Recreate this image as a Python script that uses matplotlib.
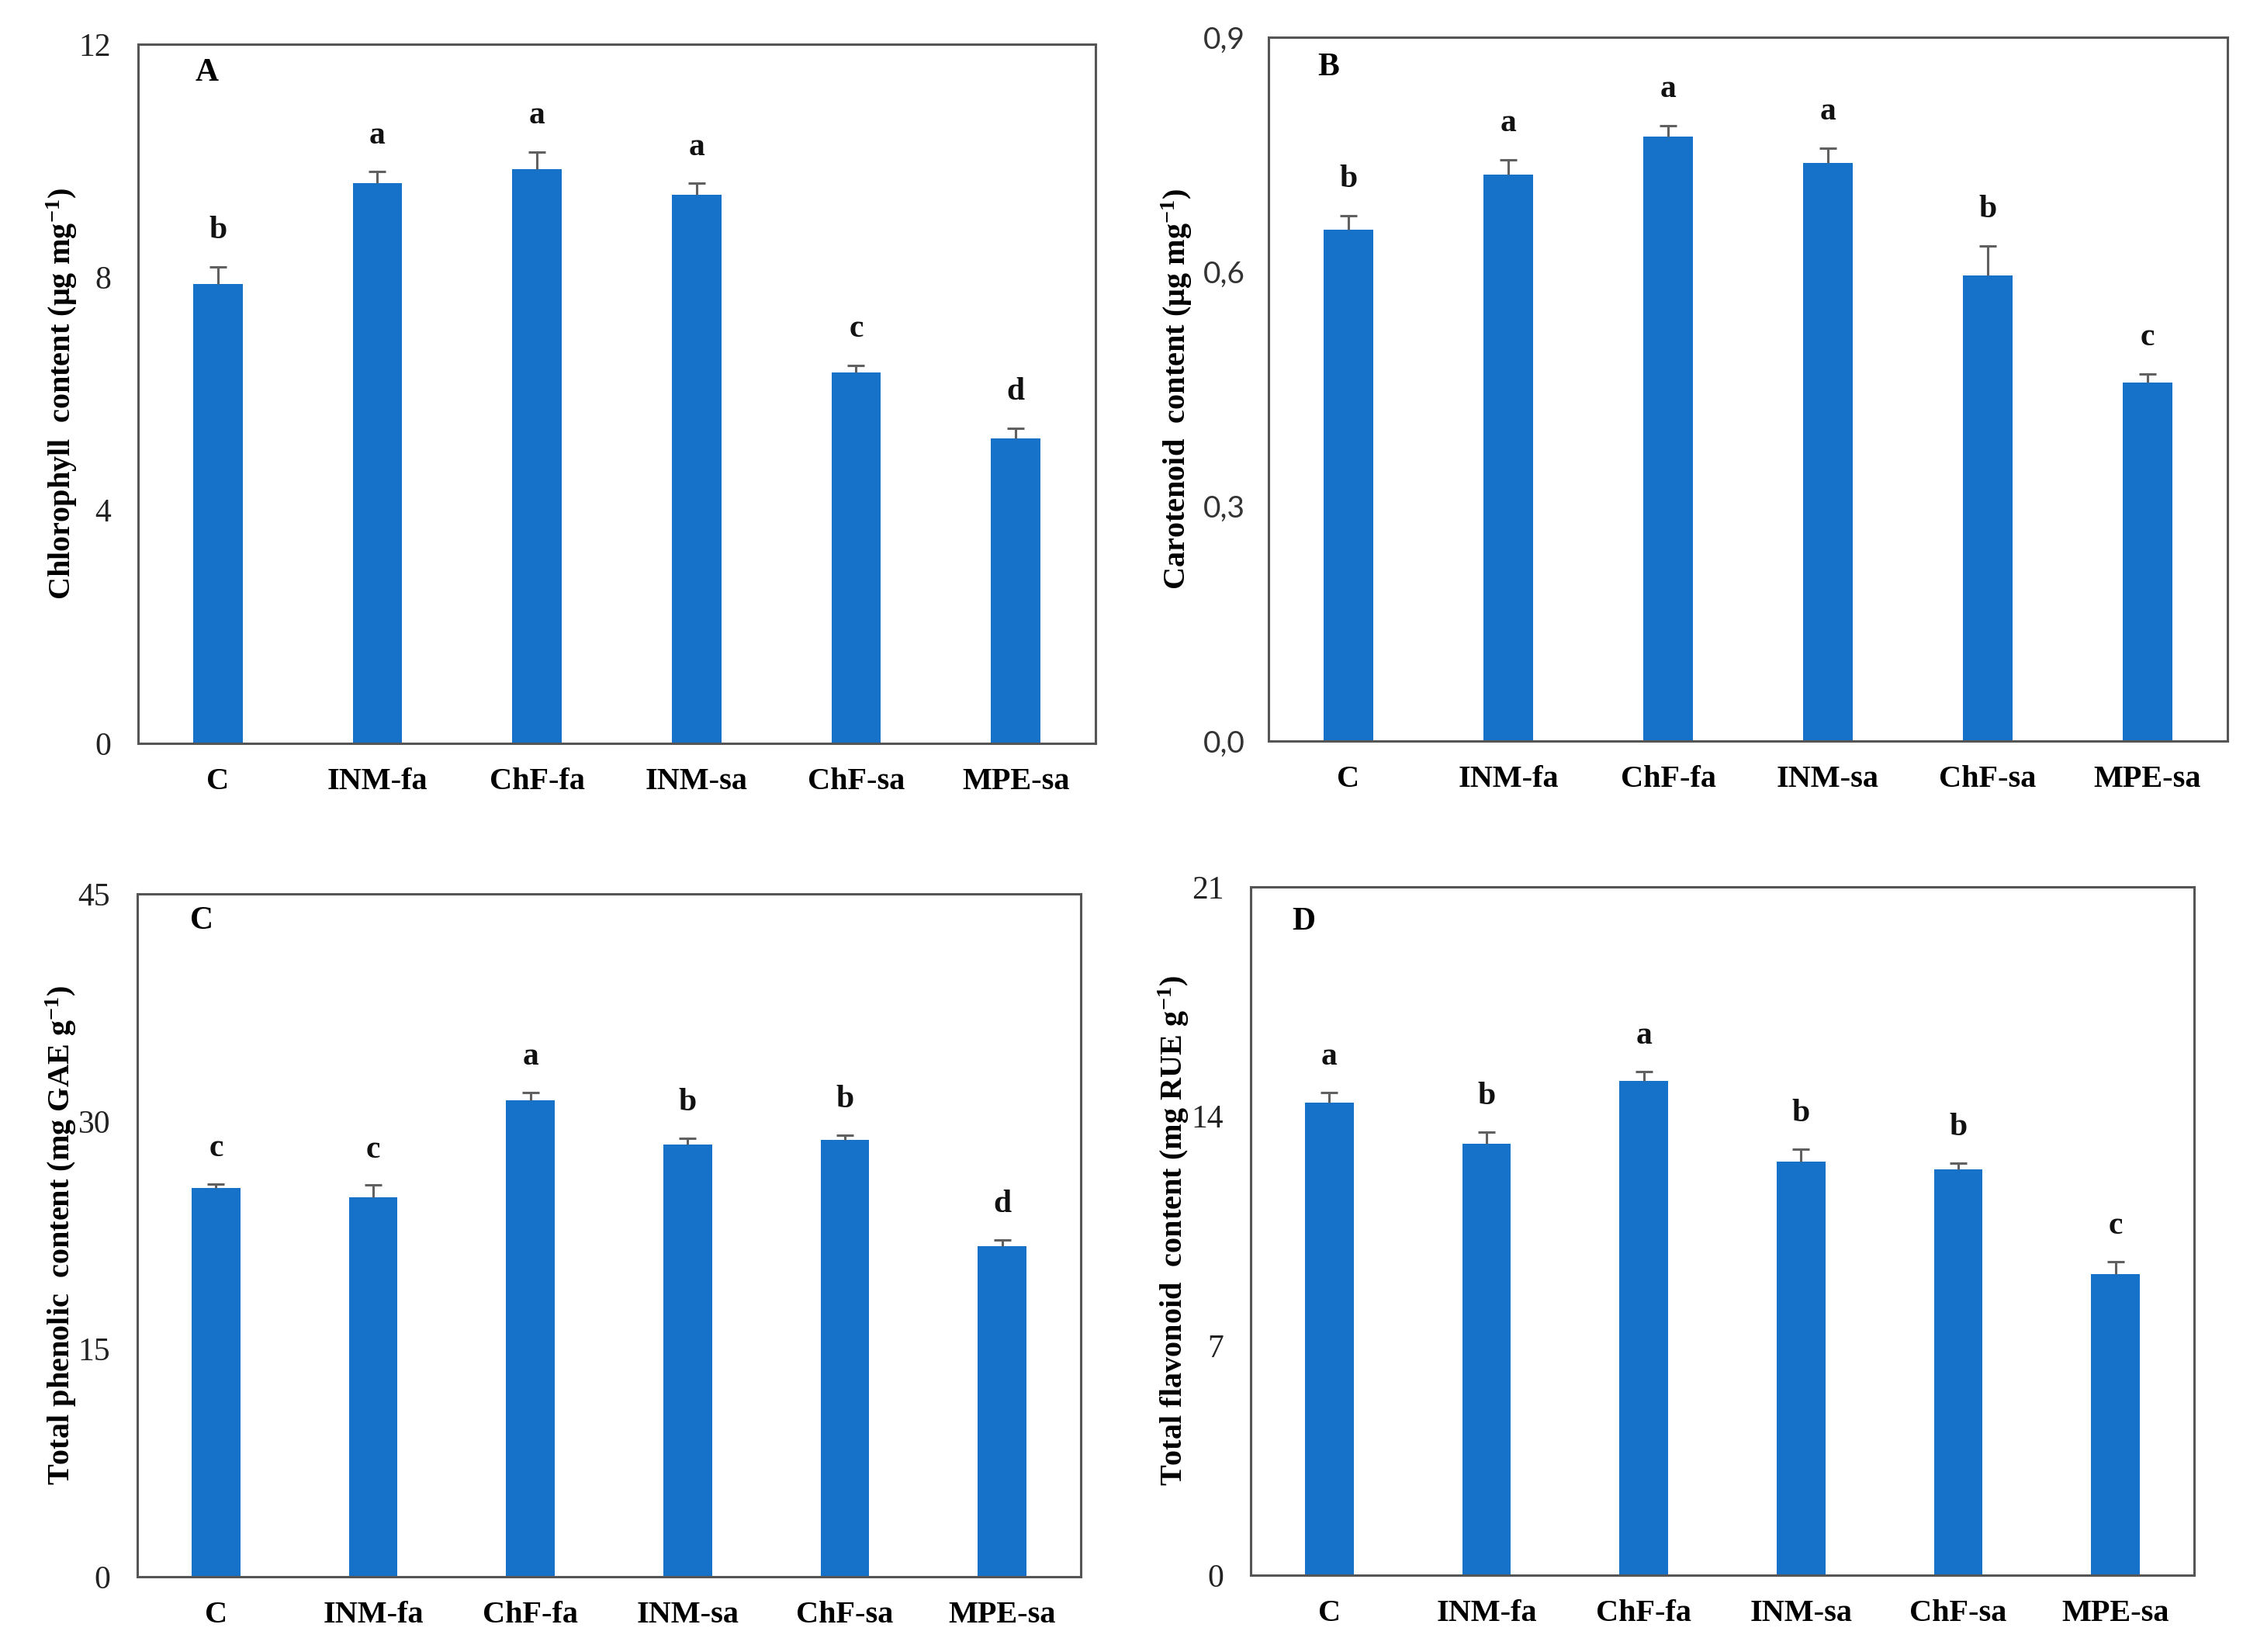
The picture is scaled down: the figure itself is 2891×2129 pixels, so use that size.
import numpy as np
import matplotlib
matplotlib.use("Agg")
import matplotlib.pyplot as plt

plt.rcParams['font.family'] = ['Liberation Serif', 'DejaVu Serif']
plt.rcParams['mathtext.fontset'] = 'custom'
plt.rcParams['mathtext.rm'] = 'Liberation Serif'
plt.rcParams['mathtext.bf'] = 'Liberation Serif:bold'
plt.rcParams['mathtext.it'] = 'Liberation Serif:italic'

categories = ['C', 'INM-fa', 'ChF-fa', 'INM-sa', 'ChF-sa', 'MPE-sa']

chl_vals = [7.89, 9.61, 9.86, 9.41, 6.36, 5.24]
chl_err = [0.29, 0.20, 0.29, 0.20, 0.13, 0.17]
chl_sig = ['b', 'a', 'a', 'a', 'c', 'd']

car_vals = [0.654, 0.7245, 0.773, 0.739, 0.595, 0.458]
car_err = [0.018, 0.0185, 0.014, 0.019, 0.038, 0.011]
car_sig = ['b', 'a', 'a', 'a', 'b', 'c']

phe_vals = [25.6, 25.0, 31.4, 28.5, 28.8, 21.8]
phe_err = [0.3, 0.8, 0.5, 0.4, 0.3, 0.4]
phe_sig = ['c', 'c', 'a', 'b', 'b', 'd']

fla_vals = [14.43, 13.16, 15.08, 12.62, 12.38, 9.19]
fla_err = [0.29, 0.36, 0.29, 0.37, 0.19, 0.37]
fla_sig = ['a', 'b', 'a', 'b', 'b', 'c']

ticks_A = [0, 4, 8, 12]
ticks_B = [0.0, 0.3, 0.6, 0.9]
ticks_C = [0, 15, 30, 45]
ticks_D = [0, 7, 14, 21]
ticklabels_B = ['0,0', '0,3', '0,6', '0,9']

BLUE = '#1671C9'
SPINE = '#555555'

fig = plt.figure(figsize=(28.91, 21.29), dpi=100)

panels = [
    dict(rect=[0.06157, 0.55002, 0.42684, 0.42320], vals=chl_vals, err=chl_err, sig=chl_sig,
         ticks=ticks_A, tlabels=None, tfont=None, letter='A', lpos=(0.072, 0.959), ylx=-0.0616,
         ylabel=r'Chlorophyll  content (μg mg$^{\mathbf{-1}}$)'),
    dict(rect=[0.56555, 0.55143, 0.42754, 0.42602], vals=car_vals, err=car_err, sig=car_sig,
         ticks=ticks_B, tlabels=ticklabels_B, tfont='Lato', letter='B', lpos=(0.062, 0.957), ylx=-0.0775,
         ylabel=r'Carotenoid  content (μg mg$^{\mathbf{-1}}$)'),
    dict(rect=[0.06123, 0.04556, 0.42062, 0.41334], vals=phe_vals, err=phe_err, sig=phe_sig,
         ticks=ticks_C, tlabels=None, tfont=None, letter='C', lpos=(0.068, 0.960), ylx=-0.0625,
         ylabel=r'Total phenolic  content (mg GAE g$^{\mathbf{-1}}$)'),
    dict(rect=[0.55759, 0.04650, 0.42062, 0.41663], vals=fla_vals, err=fla_err, sig=fla_sig,
         ticks=ticks_D, tlabels=None, tfont=None, letter='D', lpos=(0.056, 0.949), ylx=-0.0633,
         ylabel=r'Total flavonoid  content (mg RUE g$^{\mathbf{-1}}$)'),
]

for p in panels:
    ax = fig.add_axes(p['rect'])
    x = np.arange(len(categories))
    vals = np.array(p['vals'])
    err = np.array(p['err'])
    ymax = p['ticks'][-1]
    ax.bar(x, vals, width=0.31, color=BLUE, zorder=2)
    ax.errorbar(x, vals, yerr=[np.zeros_like(err), err], fmt='none', ecolor='#606060',
                elinewidth=2.2, capsize=0, zorder=3)
    ax.scatter(x, vals + err, marker='_', s=260, color='#606060', linewidths=2.2, zorder=3)
    for xi, top, s in zip(x, vals + err, p['sig']):
        ax.text(xi, top + 0.052 * ymax, s, ha='center', va='center', fontsize=30,
                fontweight='bold', color='#111111')
    ax.set_xlim(-0.5, len(categories) - 0.5)
    ax.set_ylim(0, ymax)
    ax.set_yticks(p['ticks'])
    if p['tlabels'] is not None:
        ax.set_yticklabels(p['tlabels'], fontfamily=p['tfont'], fontsize=28, color='#333333')
        ax.tick_params(axis='y', length=0, pad=22)
    else:
        ax.set_yticklabels([str(t) for t in p['ticks']], fontsize=30, color='#222222')
        ax.tick_params(axis='y', length=0, pad=25)
    ax.set_xticks(x)
    ax.set_xticklabels(categories, fontsize=29, fontweight='bold')
    ax.tick_params(axis='x', length=0, pad=22)
    for sp in ax.spines.values():
        sp.set_color(SPINE)
        sp.set_linewidth(2.2)
    ax.set_ylabel(p['ylabel'], fontsize=29, fontweight='bold')
    ax.yaxis.set_label_coords(p['ylx'], 0.5)
    ax.text(p['lpos'][0], p['lpos'][1], p['letter'], transform=ax.transAxes, ha='center',
            va='center', fontsize=30, fontweight='bold')

fig.savefig('out.png', dpi=100, facecolor='white')
